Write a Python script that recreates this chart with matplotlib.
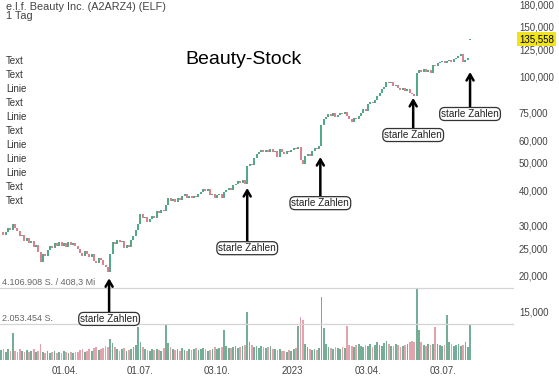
import numpy as np
import pandas as pd
import matplotlib
matplotlib.use('Agg')
import matplotlib.pyplot as plt
import matplotlib.transforms as mtransforms
from matplotlib.ticker import NullLocator

plt.rcParams['font.family'] = ['Liberation Sans', 'DejaVu Sans']

# Schlusskurse (je 2 Handelstage)
closes = [
    28.4, 27.8, 28.6, 29.4, 28.9, 30.3, 29.4, 28.8, 27.6, 27.9,
    26.6, 27.2, 26.1, 26.4, 25.3, 25.6, 24.3, 22.4, 23.8, 23.5,
    24.7, 25.5, 25.1, 26.0, 25.5, 26.3, 25.5, 26.0, 25.3, 26.2,
    25.6, 26.1, 25.4, 24.9, 24.1, 23.4, 24.5, 23.9, 23.3, 23.9,
    22.6, 22.2, 23.1, 22.7, 21.9, 21.4, 20.6, 23.9, 26.3, 25.8,
    26.8, 26.3, 26.6, 25.0, 25.6, 25.3, 26.8, 27.6, 28.9, 30.3,
    32.9, 31.8, 32.2, 31.0, 31.6, 32.4, 32.0, 33.9, 33.2, 34.1,
    33.7, 35.6, 37.4, 36.7, 37.3, 36.4, 37.5, 37.0, 38.3, 38.8,
    37.5, 38.2, 37.6, 38.3, 37.9, 38.9, 39.4, 40.4, 39.8, 40.5,
    38.6, 38.9, 37.6, 38.5, 38.9, 37.6, 39.4, 39.9, 40.6, 40.2,
    41.6, 42.2, 42.9, 42.3, 43.4, 42.0, 48.6, 49.6, 49.1, 51.8,
    53.4, 54.6, 55.3, 54.6, 55.5, 54.3, 55.7, 54.6, 55.1, 52.5,
    55.9, 54.3, 53.4, 54.8, 54.3, 55.5, 56.1, 55.6, 56.9, 51.2,
    49.6, 52.9, 53.5, 52.8, 54.9, 56.4, 55.8, 57.2, 67.8, 70.9,
    72.1, 73.8, 73.0, 74.4, 72.5, 73.7, 74.5, 73.9, 75.6, 72.8,
    71.4, 69.3, 71.9, 71.2, 73.1, 74.8, 76.9, 76.1, 80.5, 81.9,
    81.2, 83.0, 85.6, 87.8, 90.5, 92.0, 96.3, 95.0, 95.8, 93.1,
    93.4, 91.6, 90.0, 91.2, 89.4, 90.5, 88.1, 87.0, 85.6, 103.5,
    105.5, 104.1, 106.4, 104.0, 105.6, 103.3, 109.8, 108.9, 111.6, 112.6,
    113.6, 111.9, 113.5, 114.6, 112.8, 115.4, 116.4, 118.6, 120.1, 113.0,
    114.5, 116.3, 135.558,
]
last_open = 134.6  # Kurslücke nach den Zahlen im August

# Volumen in Tsd. Stück
volumes = [
    560, 610, 480, 650, 520, 1520, 540, 470, 620, 500,
    430, 580, 460, 510, 640, 450, 520, 900, 480, 420,
    530, 390, 450, 500, 410, 460, 380, 520, 440, 400,
    470, 390, 430, 480, 560, 620, 480, 530, 600, 510,
    690, 740, 560, 620, 700, 810, 760, 1200, 980, 760,
    620, 540, 600, 680, 530, 580, 640, 720, 850, 1880,
    1020, 760, 640, 580, 520, 610, 560, 640, 580, 530,
    690, 2000, 960, 720, 640, 580, 620, 540, 660, 590,
    520, 610, 570, 640, 700, 560, 600, 680, 620, 540,
    590, 650, 720, 610, 680, 740, 1710, 820, 700, 660,
    740, 780, 690, 720, 800, 860, 2740, 1020, 840, 760,
    820, 700, 780, 740, 680, 720, 800, 650, 600, 560,
    620, 500, 540, 480, 580, 520, 600, 660, 1940, 2450,
    2280, 900, 760, 640, 580, 620, 560, 680, 3600, 1820,
    900, 760, 700, 640, 720, 680, 620, 740, 660, 1940,
    880, 820, 760, 840, 900, 780, 720, 860, 800, 920,
    760, 840, 1000, 880, 780, 960, 1060, 900, 820, 780,
    920, 860, 760, 820, 880, 940, 1000, 1100, 1040, 4110,
    1710, 1000, 880, 820, 940, 860, 900, 1880, 920, 860,
    800, 880, 2570, 1020, 900, 780, 860, 940, 820, 880,
    1000, 760, 2050,
]
assert len(closes) == len(volumes)

tick_dates = ['2022-04-01', '2022-07-01', '2022-10-03', '2023-01-02', '2023-04-03', '2023-07-03']
tick_labels = ['01.04.', '01.07.', '03.10.', '2023', '03.04.', '03.07.']

price_ticks = [15, 20, 25, 30, 40, 50, 60, 75, 100, 125, 150, 180]
price_labels = ['15,000', '20,000', '25,000', '30,000', '40,000', '50,000',
                '60,000', '75,000', '100,000', '125,000', '150,000', '180,000']

# "starle Zahlen"-Markierungen
arrow_dates = ['2022-05-25', '2022-11-08', '2023-02-03', '2023-05-26', '2023-08-03']
arrow_tips = [19.6, 40.7, 52.3, 84.4, 104.1]
arrow_labels_at = [14.1, 25.0, 36.0, 62.5, 74.1]

legend_items = ['Text', 'Text', 'Linie', 'Text', 'Linie', 'Text',
                'Linie', 'Linie', 'Linie', 'Text', 'Text']

days = pd.bdate_range('2022-01-14', '2023-09-29')
x = np.arange(len(closes)) * 2
c = np.array(closes)
o = np.r_[c[0], c[:-1]]
o[-1] = last_open
up = c >= o
v = np.array(volumes) * 1000.0

W, H = 559, 380
fig = plt.figure(figsize=(W / 100, H / 100), dpi=100)
axv = fig.add_axes([0, 20 / H, 513 / W, 72 / H])
ax = fig.add_axes([0, 20 / H, 513 / W, 360 / H])
ax.set_zorder(2)
ax.patch.set_visible(False)

green, red = '#2f9870', '#d4697a'
ax.vlines(x[up], o[up], c[up], color=green, lw=1.2)
ax.vlines(x[~up], o[~up], c[~up], color=red, lw=1.2)
ax.set_yscale('log')
ax.set_ylim(10.11, 186.5)
ax.set_xlim(-1, 441)

ax.yaxis.tick_right()
ax.set_yticks(price_ticks)
ax.set_yticklabels(price_labels)
ax.yaxis.set_minor_locator(NullLocator())
ax.tick_params(axis='y', length=0, pad=4.3, labelsize=7, labelcolor='#444')
ax.set_xticks(days.get_indexer(pd.to_datetime(tick_dates)))
ax.set_xticklabels(tick_labels)
ax.tick_params(axis='x', length=0, pad=4, labelsize=7, labelcolor='#444')
for s in ax.spines.values():
    s.set_visible(False)

# Volumen
axv.bar(x[up], v[up], width=1.5, color='#74ae96')
axv.bar(x[~up], v[~up], width=1.5, color='#e2a3ad')
axv.set_xlim(-1, 441)
axv.set_ylim(0, 4106908)
axv.axis('off')
for lvl in [4106908, 2053454]:
    axv.axhline(lvl, color='#d4d4d4', lw=0.9, clip_on=False)
axv.text(0.004, 4106908 * 1.012, '4.106.908 S. / 408,3 Mi', transform=axv.get_yaxis_transform(),
         fontsize=6.5, color='#666', va='bottom')
axv.text(0.004, 2053454 * 1.03, '2.053.454 S.', transform=axv.get_yaxis_transform(),
         fontsize=6.5, color='#666', va='bottom')

# aktueller Kurs
trans = mtransforms.blended_transform_factory(ax.transAxes, ax.transData)
ax.text(519 / 513, closes[-1], '135,558', transform=trans, fontsize=7, va='center',
        ha='left', color='black', zorder=5,
        bbox=dict(boxstyle='square,pad=0.2', fc='#f2e41c', ec='none'))

for d, tip, lab in zip(arrow_dates, arrow_tips, arrow_labels_at):
    xi = days.get_indexer(pd.to_datetime([d]))[0]
    ax.annotate('starle Zahlen', xy=(xi, tip), xytext=(xi, lab), fontsize=7.2,
                ha='center', va='center', color='#222',
                bbox=dict(boxstyle='round,pad=0.15,rounding_size=0.5', fc='white',
                          ec='#333', lw=0.9),
                arrowprops=dict(arrowstyle='->,head_length=0.6,head_width=0.35',
                                lw=1.8, color='black', shrinkA=0, shrinkB=0))

fig.text(244 / W, 1 - 60 / H, 'Beauty-Stock', fontsize=14, ha='center', va='center')
fig.text(6 / W, 1 - 7 / H, 'e.l.f. Beauty Inc. (A2ARZ4) (ELF)', fontsize=7.8,
         color='#444', va='center')
fig.text(6 / W, 1 - 16 / H, '1 Tag', fontsize=7.8, color='#444', va='center')
for i, t in enumerate(legend_items):
    fig.text(6 / W, 1 - (61 + 14 * i) / H, t, fontsize=7, color='#333', va='center')

fig.savefig('out.png', dpi=100)
